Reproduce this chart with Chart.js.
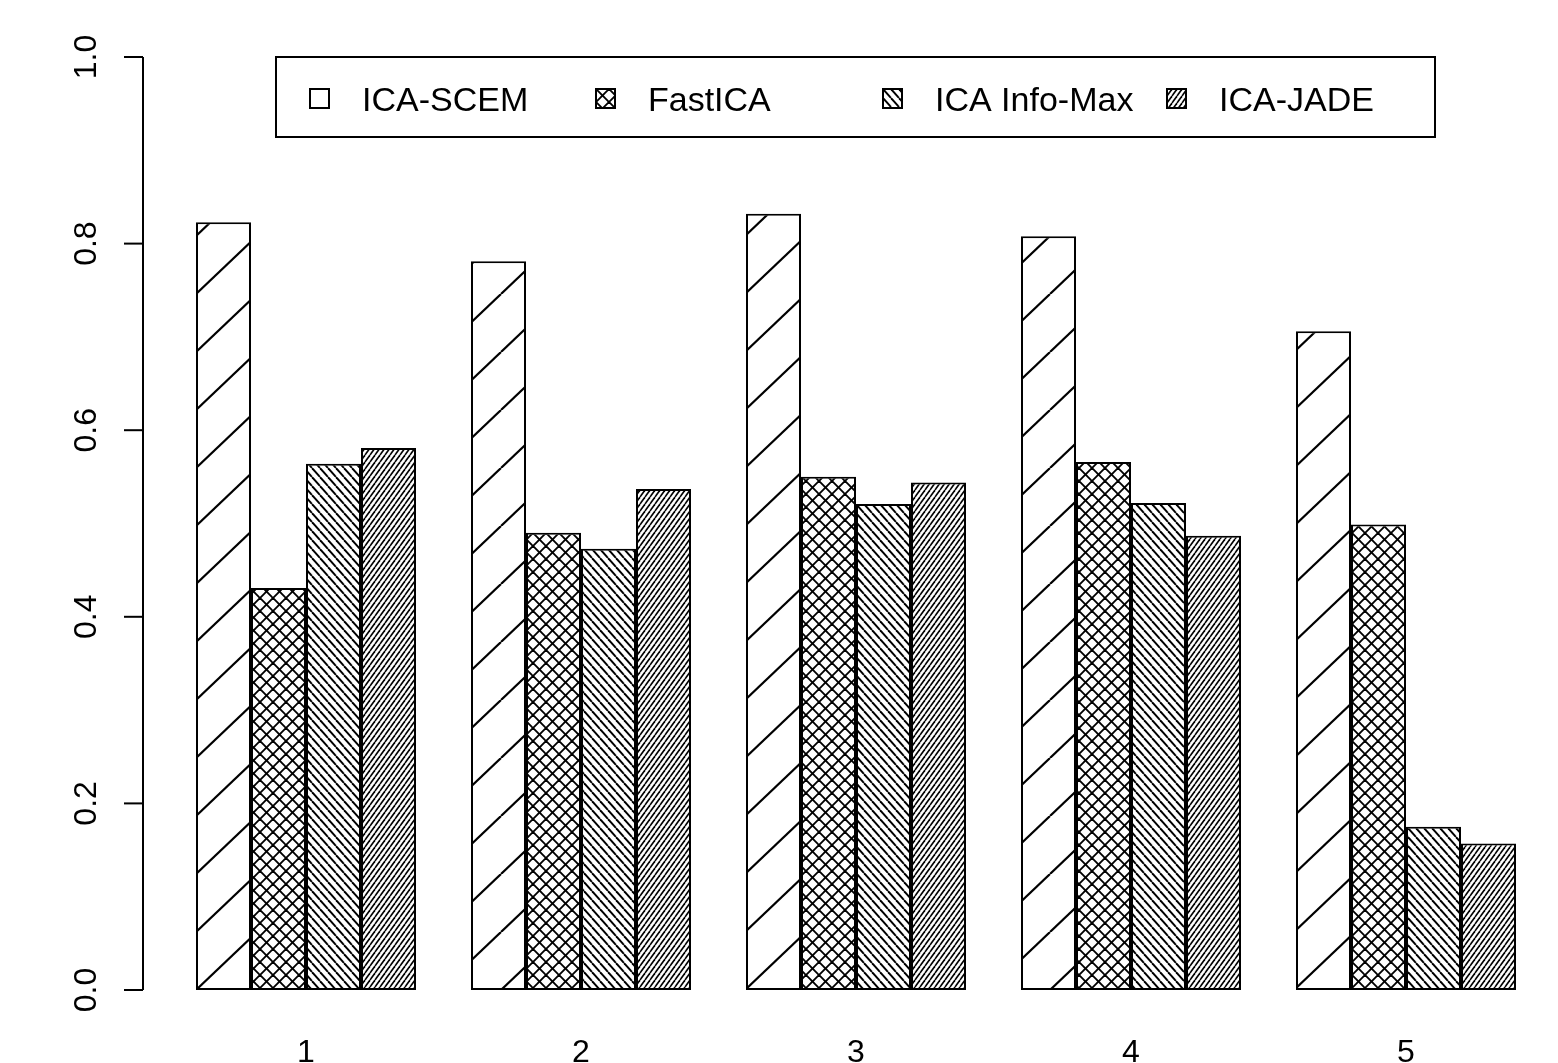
<!DOCTYPE html>
<html>
<head>
<meta charset="utf-8">
<script src="https://cdn.jsdelivr.net/npm/chart.js@4.4.1/dist/chart.umd.min.js"></script>
<style>
  html, body { margin: 0; padding: 0; background: #fff; }
  canvas { display: block; }
</style>
</head>
<body>
<canvas id="chart" width="1558" height="1063"></canvas>
<script>
const categories  = ['1', '2', '3', '4', '5'];
const seriesNames = ['ICA-SCEM', 'FastICA', 'ICA Info-Max', 'ICA-JADE'];
const icaScem = [0.823, 0.781, 0.832, 0.808, 0.706];
const fastIca = [0.431, 0.490, 0.550, 0.566, 0.499];
const infoMax = [0.564, 0.473, 0.521, 0.522, 0.175];
const icaJade = [0.581, 0.537, 0.544, 0.487, 0.157];
const yTicks  = [0, 0.2, 0.4, 0.6, 0.8, 1.0];

const FONT = '"Liberation Sans", Arial, Helvetica, sans-serif';
const AXIS_X = 143;

const canvas = document.getElementById('chart');
const c2d = canvas.getContext('2d');

// hatch tile: '/' goes bottom-left -> top-right, '\' top-left -> bottom-right
function hatch(w, h, dirs, lw) {
  const t = document.createElement('canvas');
  t.width = w; t.height = h;
  const g = t.getContext('2d');
  g.fillStyle = '#fff';
  g.fillRect(0, 0, w, h);
  g.strokeStyle = '#000';
  g.lineWidth = lw;
  for (const d of dirs) {
    for (const dx of [-w, 0, w]) {
      g.beginPath();
      if (d === '/') { g.moveTo(dx, h); g.lineTo(dx + w, 0); }
      else { g.moveTo(dx, 0); g.lineTo(dx + w, h); }
      g.stroke();
    }
  }
  return t;
}

const tiles = [
  hatch(61, 58, ['/'], 2.2),        // ICA-SCEM, sparse
  hatch(13, 13, ['/', '\\'], 1.9),  // FastICA, cross
  hatch(8, 9, ['\\'], 1.9),         // Info-Max
  hatch(5, 7, ['/'], 1.6),          // JADE, dense
];
const patterns = tiles.map(t => c2d.createPattern(t, 'repeat'));
patterns[0].setTransform(new DOMMatrix().translate(13, 4));

const seriesData = [icaScem, fastIca, infoMax, icaJade];

const rAxis = {
  id: 'rAxis',
  afterDraw(chart) {
    const { ctx, scales: { y } } = chart;
    ctx.save();
    ctx.strokeStyle = '#000';
    ctx.lineWidth = 2;
    ctx.beginPath();
    ctx.moveTo(AXIS_X, y.getPixelForValue(yTicks[0]));
    ctx.lineTo(AXIS_X, y.getPixelForValue(yTicks[yTicks.length - 1]));
    ctx.stroke();
    ctx.fillStyle = '#000';
    ctx.font = '32px ' + FONT;
    ctx.textAlign = 'center';
    ctx.textBaseline = 'alphabetic';
    y.ticks.forEach(t => {
      const py = y.getPixelForValue(t.value);
      ctx.beginPath();
      ctx.moveTo(AXIS_X - 19, py);
      ctx.lineTo(AXIS_X, py);
      ctx.stroke();
      ctx.save();
      ctx.translate(96, py);
      ctx.rotate(-Math.PI / 2);
      ctx.fillText(t.value.toFixed(1), 0, 0);
      ctx.restore();
    });
    ctx.restore();
  }
};

const rLegend = {
  id: 'rLegend',
  afterDraw(chart) {
    const ctx = chart.ctx;
    const textX = [362, 648, 935, 1219];
    ctx.save();
    ctx.strokeStyle = '#000';
    ctx.lineWidth = 2;
    ctx.strokeRect(276, 57, 1159, 80);
    ctx.font = '34px ' + FONT;
    ctx.fillStyle = '#000';
    ctx.textAlign = 'left';
    ctx.textBaseline = 'alphabetic';
    seriesNames.forEach((name, i) => {
      const bx = textX[i] - 52, by = 89;
      const p = ctx.createPattern(tiles[i], 'repeat');
      p.setTransform(new DOMMatrix().translate(bx, by));
      ctx.fillStyle = p;
      ctx.fillRect(bx, by, 19, 19);
      ctx.lineWidth = 2;
      ctx.strokeRect(bx, by, 19, 19);
      ctx.fillStyle = '#000';
      ctx.fillText(name, textX[i], 111);
    });
    ctx.restore();
  }
};

new Chart(c2d, {
  type: 'bar',
  data: {
    labels: categories,
    datasets: seriesNames.map((name, i) => ({
      label: name,
      data: seriesData[i],
      backgroundColor: patterns[i],
      borderColor: '#000',
      borderWidth: 2,
      borderSkipped: false,
      categoryPercentage: 0.8,
      barPercentage: 1.0,
    }))
  },
  options: {
    responsive: false,
    animation: false,
    events: [],
    layout: { padding: { left: 168.5, right: 14.5, top: 57, bottom: 0 } },
    plugins: {
      legend: { display: false },
      tooltip: { enabled: false },
    },
    scales: {
      x: {
        grid: { display: false, drawTicks: false },
        border: { display: false },
        ticks: { color: '#000', font: { family: FONT, size: 32 }, padding: 44, maxRotation: 0 },
        afterFit(s) { s.height = 73; }
      },
      y: {
        display: false,
        min: 0,
        max: 1,
        afterBuildTicks(s) { s.ticks = yTicks.map(v => ({ value: v })); }
      }
    }
  },
  plugins: [rAxis, rLegend]
});
</script>
</body>
</html>
